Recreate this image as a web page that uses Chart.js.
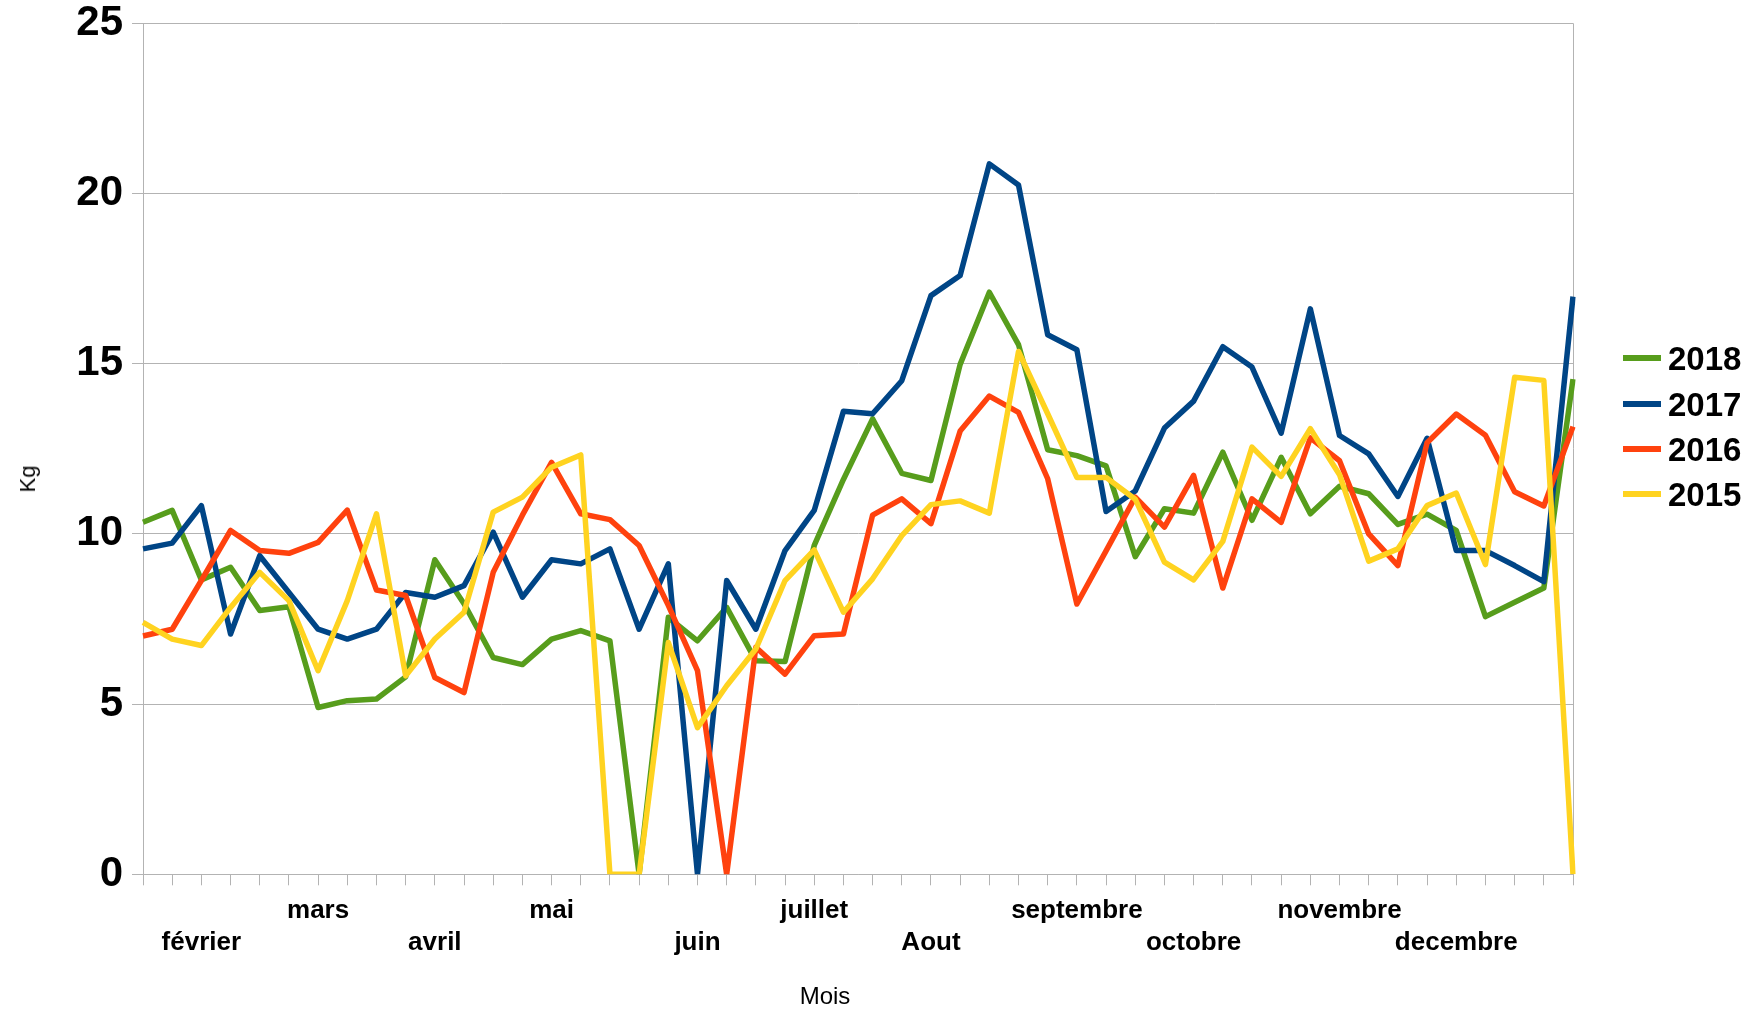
<!DOCTYPE html>
<html><head><meta charset="utf-8">
<script src="https://cdn.jsdelivr.net/npm/chart.js@4.4.1/dist/chart.umd.min.js"></script>
<style>
html,body{margin:0;padding:0;background:#fff;}
#wrap{position:relative;width:1758px;height:1012px;overflow:hidden;font-family:"Liberation Sans",Arial,sans-serif;color:#000;}
#c{position:absolute;left:0;top:0;}
.leg{position:absolute;left:1623px;height:0;}
.sw{position:absolute;left:0;width:38px;height:6px;top:-3px;}
.lt{position:absolute;left:45px;top:0;transform:translateY(-50%);font-weight:bold;font-size:33px;line-height:1;white-space:nowrap;}
#kg{position:absolute;left:28px;top:479px;transform:translate(-50%,-50%) rotate(-90deg);font-size:22px;line-height:1;}
#mois{position:absolute;left:825px;top:996px;transform:translate(-50%,-50%);font-size:24px;line-height:1;}
</style></head><body>
<div id="wrap">
<canvas id="c" width="1758" height="1012"></canvas>
<div id="legend"></div>
<div id="kg">Kg</div>
<div id="mois">Mois</div>
</div>
<script>
const categories = ['', '', 'février', '', '', '', 'mars', '', '', '', 'avril', '', '', '', 'mai', '', '', '', '', 'juin', '', '', '', 'juillet', '', '', '', 'Aout', '', '', '', '', 'septembre', '', '', '', 'octobre', '', '', '', '', 'novembre', '', '', '', 'decembre', '', '', '', ''];
const seriesNames = ['2018', '2017', '2016', '2015'];
const seriesColors = ['#579d1c', '#004586', '#ff420e', '#ffd320'];
const values2018 = [10.34, 10.69, 8.65, 9.02, 7.75, 7.86, 4.9, 5.1, 5.15, 5.8, 9.24, 7.95, 6.37, 6.16, 6.91, 7.16, 6.86, 0, 7.55, 6.86, 7.84, 6.27, 6.25, 9.66, 11.6, 13.38, 11.78, 11.57, 14.98, 17.1, 15.56, 12.47, 12.3, 12.0, 9.33, 10.74, 10.61, 12.4, 10.4, 12.25, 10.59, 11.4, 11.18, 10.28, 10.58, 10.1, 7.57, 7.99, 8.41, 14.55];
const values2017 = [9.56, 9.73, 10.83, 7.06, 9.36, 8.28, 7.2, 6.91, 7.2, 8.28, 8.14, 8.48, 10.05, 8.14, 9.24, 9.12, 9.56, 7.2, 9.12, 0, 8.63, 7.2, 9.51, 10.69, 13.6, 13.53, 14.5, 17.0, 17.59, 20.87, 20.25, 15.85, 15.41, 10.66, 11.26, 13.11, 13.9, 15.5, 14.9, 12.96, 16.61, 12.89, 12.35, 11.1, 12.81, 9.51, 9.51, 9.07, 8.6, 16.97];
const values2016 = [7.0, 7.2, 8.63, 10.1, 9.51, 9.43, 9.75, 10.7, 8.35, 8.19, 5.78, 5.34, 8.87, 10.55, 12.1, 10.59, 10.42, 9.66, 7.9, 5.98, 0, 6.67, 5.88, 7.01, 7.06, 10.55, 11.03, 10.3, 13.02, 14.05, 13.57, 11.62, 7.94, 9.5, 11.08, 10.2, 11.72, 8.41, 11.03, 10.34, 12.82, 12.15, 10.0, 9.07, 12.68, 13.52, 12.9, 11.24, 10.82, 13.15];
const values2015 = [7.4, 6.91, 6.72, 7.84, 8.87, 8.04, 5.98, 8.04, 10.59, 5.83, 6.91, 7.7, 10.64, 11.08, 11.96, 12.32, 0, 0, 6.81, 4.31, 5.54, 6.62, 8.63, 9.53, 7.7, 8.68, 9.95, 10.86, 10.97, 10.61, 15.36, 13.53, 11.66, 11.66, 11.02, 9.17, 8.65, 9.78, 12.55, 11.69, 13.09, 11.74, 9.2, 9.56, 10.83, 11.2, 9.1, 14.6, 14.51, 0];
const yTicks = [0, 5, 10, 15, 20, 25];

const allValues = [values2018, values2017, values2016, values2015];
const labelledIdx = categories.map((c, i) => c ? i : -1).filter(i => i >= 0);
const GRID = '#b3b3b3';
const FONT = '"Liberation Sans", Arial, sans-serif';

const datasets = seriesNames.map((name, i) => ({
  label: name,
  data: allValues[i],
  borderColor: seriesColors[i],
  backgroundColor: seriesColors[i],
  borderWidth: 5.5,
  pointRadius: 0,
  tension: 0,
  fill: false,
  borderJoinStyle: 'round',
  borderCapStyle: 'butt',
  order: seriesNames.length - i
}));

new Chart(document.getElementById('c'), {
  type: 'line',
  data: { labels: categories, datasets },
  options: {
    responsive: false,
    animation: false,
    events: [],
    layout: { padding: { left: 0, top: 23.3, right: 185, bottom: 0 } },
    plugins: { legend: { display: false }, tooltip: { enabled: false }, title: { display: false } },
    scales: {
      x: {
        type: 'category',
        offset: false,
        afterFit: s => { s.height = 137.7; },
        border: { display: true, color: GRID, width: 1 },
        grid: {
          drawOnChartArea: true,
          color: ctx => (ctx.index === categories.length - 1 || ctx.index === 0) ? GRID : 'rgba(0,0,0,0)',
          tickColor: GRID,
          tickLength: 11,
          lineWidth: 1
        },
        ticks: {
          autoSkip: false,
          maxRotation: 0,
          minRotation: 0,
          padding: 10,
          color: '#000',
          font: { family: FONT, size: 26, weight: 'bold', lineHeight: 32 / 26 },
          callback: (v, index) => {
            const lab = categories[index];
            if (!lab) return '';
            return labelledIdx.indexOf(index) % 2 === 0 ? ['', lab] : lab;
          }
        }
      },
      y: {
        min: yTicks[0],
        max: yTicks[yTicks.length - 1],
        afterFit: s => { s.width = 143; },
        afterBuildTicks: s => { s.ticks = yTicks.map(v => ({ value: v })); },
        border: { display: true, color: GRID, width: 1 },
        grid: { color: GRID, tickColor: GRID, tickLength: 11, lineWidth: 1 },
        ticks: {
          padding: 9,
          color: '#000',
          font: { family: FONT, size: 42, weight: 'bold', lineHeight: 0.6 }
        }
      }
    }
  }
});

const legendEl = document.getElementById('legend');
const legendY = [358, 404, 449, 494];
seriesNames.forEach((name, i) => {
  const row = document.createElement('div');
  row.className = 'leg';
  row.style.top = legendY[i] + 'px';
  const sw = document.createElement('div');
  sw.className = 'sw';
  sw.style.background = seriesColors[i];
  const t = document.createElement('div');
  t.className = 'lt';
  t.textContent = name;
  row.appendChild(sw); row.appendChild(t);
  legendEl.appendChild(row);
});
</script>
</body></html>
